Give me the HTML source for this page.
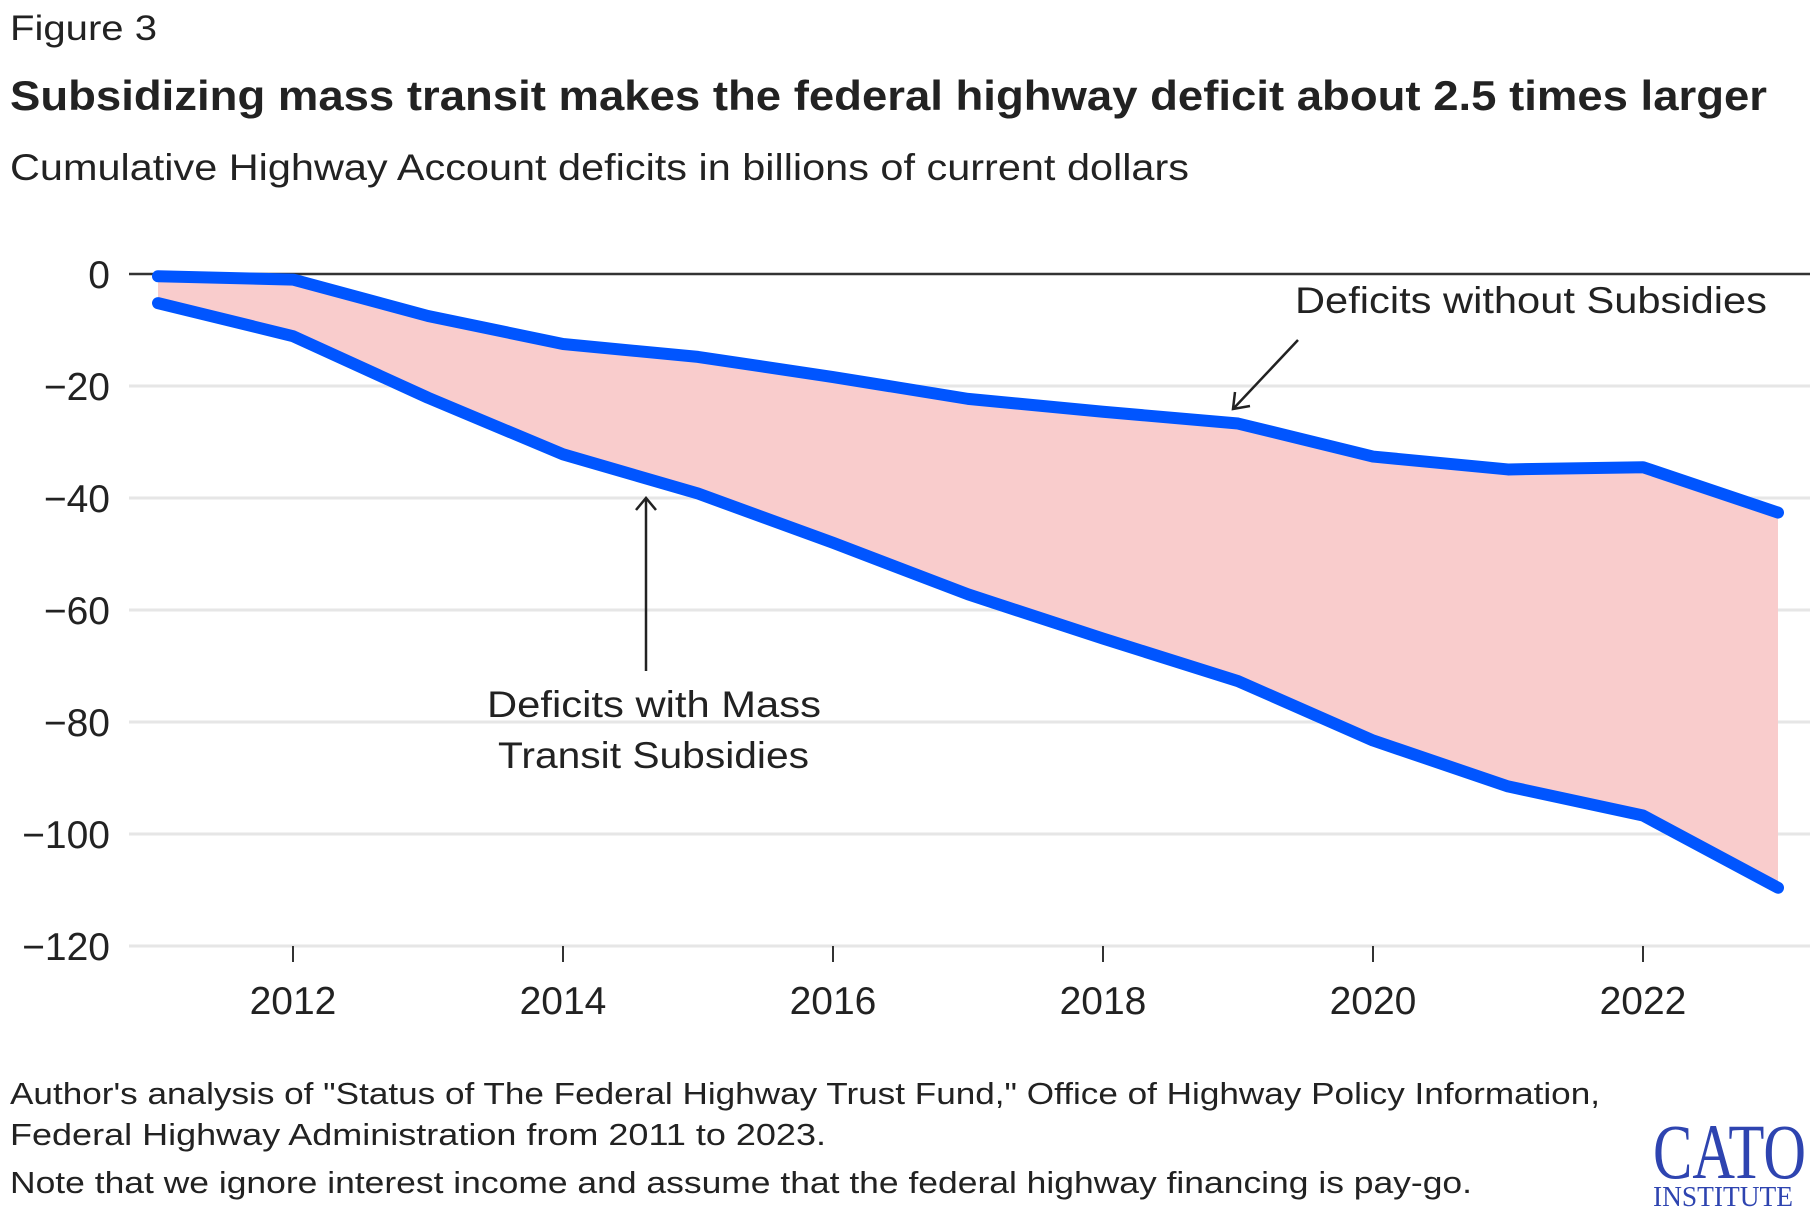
<!DOCTYPE html>
<html><head><meta charset="utf-8"><style>
body{margin:0;background:#fff;font-family:"Liberation Sans",sans-serif;color:#222}
svg text{font-family:"Liberation Sans",sans-serif;fill:#222}
</style></head><body>
<svg width="1820" height="1220">
<text x="10" y="40" font-size="35" textLength="147" lengthAdjust="spacingAndGlyphs">Figure 3</text>
<text x="10" y="110" font-size="42" font-weight="bold" textLength="1757" lengthAdjust="spacingAndGlyphs">Subsidizing mass transit makes the federal highway deficit about 2.5 times larger</text>
<text x="10" y="180" font-size="37" textLength="1179" lengthAdjust="spacingAndGlyphs">Cumulative Highway Account deficits in billions of current dollars</text>
<g id="grid"></g><g id="marks"></g>
<text x="1295" y="313" font-size="37" textLength="472" lengthAdjust="spacingAndGlyphs">Deficits without Subsidies</text>
<line x1="1298" y1="340" x2="1234" y2="408" stroke="#222" stroke-width="2.5"/>
<polyline points="1235,392 1233,409 1250,406" fill="none" stroke="#222" stroke-width="2.5"/>
<text x="487" y="717" font-size="37" textLength="334" lengthAdjust="spacingAndGlyphs">Deficits with Mass</text>
<text x="498" y="768" font-size="37" textLength="311" lengthAdjust="spacingAndGlyphs">Transit Subsidies</text>
<line x1="646" y1="671" x2="646" y2="499" stroke="#222" stroke-width="2.5"/>
<polyline points="636,510 646,498 656,510" fill="none" stroke="#222" stroke-width="2.5"/>
<text x="10" y="1104" font-size="31" textLength="1590" lengthAdjust="spacingAndGlyphs">Author's analysis of "Status of The Federal Highway Trust Fund," Office of Highway Policy Information,</text>
<text x="10" y="1145" font-size="31" textLength="816" lengthAdjust="spacingAndGlyphs">Federal Highway Administration from 2011 to 2023.</text>
<text x="10" y="1193" font-size="31" textLength="1462" lengthAdjust="spacingAndGlyphs">Note that we ignore interest income and assume that the federal highway financing is pay-go.</text>
<g>
<text x="1653" y="1178" font-size="78" style="font-family:'Liberation Serif',serif;fill:#2e44b0" textLength="153" lengthAdjust="spacingAndGlyphs">CATO</text>
<text x="1653" y="1206" font-size="28" style="font-family:'Liberation Serif',serif;fill:#2e44b0" textLength="140" lengthAdjust="spacingAndGlyphs">INSTITUTE</text>
</g>
</svg>
<script>
const years=[2011,2012,2013,2014,2015,2016,2017,2018,2019,2020,2021,2022,2023];
const withoutSubsidies=[-0.4,-1,-7.5,-12.5,-14.8,-18.4,-22.3,-24.6,-26.7,-32.6,-34.9,-34.5,-42.6];
const withTransit=[-5.2,-11.1,-22.1,-32.2,-39.2,-48,-57.2,-65.1,-72.7,-83.3,-91.5,-96.7,-109.6];
const yTicks=[0,-20,-40,-60,-80,-100,-120];
const xTicks=[2012,2014,2016,2018,2020,2022];
const NS="http://www.w3.org/2000/svg";
const x=v=>158+(v-2011)*135;
const y=v=>274-v*5.6;
function mk(t,a,p){const e=document.createElementNS(NS,t);for(const k in a)e.setAttribute(k,a[k]);p.appendChild(e);return e;}
const grid=document.getElementById('grid'),marks=document.getElementById('marks');
yTicks.forEach(t=>{
 const l=mk('line',{x1:129,x2:1810,y1:y(t),y2:y(t),stroke:t===0?'#333':'#e6e6e6','stroke-width':t===0?2.5:3},t===0?marks:grid);
 
 
 const tx=mk('text',{x:110,y:y(t)+14,'font-size':39,'text-anchor':'end'},grid);
 tx.textContent=t===0?'0':'\u2212'+Math.abs(t);
 
 
});
xTicks.forEach(t=>{
 const l=mk('line',{x1:x(t),x2:x(t),y1:946,y2:962,stroke:'#333','stroke-width':2},grid);
 
 
 const tx=mk('text',{x:x(t),y:1014,'font-size':39,'text-anchor':'middle'},grid);
 tx.textContent=t;
 
 
});
const up=years.map((yr,i)=>x(yr)+','+y(withoutSubsidies[i]));
const lo=years.map((yr,i)=>x(yr)+','+y(withTransit[i]));
const area=mk('polygon',{points:up.concat(lo.slice().reverse()).join(' '),fill:'#f9cccc'},grid);


const l1=mk('polyline',{points:up.join(' '),fill:'none',stroke:'#0055ff','stroke-width':12,'stroke-linecap':'round','stroke-linejoin':'round'},marks);


const l2=mk('polyline',{points:lo.join(' '),fill:'none',stroke:'#0055ff','stroke-width':12,'stroke-linecap':'round','stroke-linejoin':'round'},marks);


</script>
</body></html>
